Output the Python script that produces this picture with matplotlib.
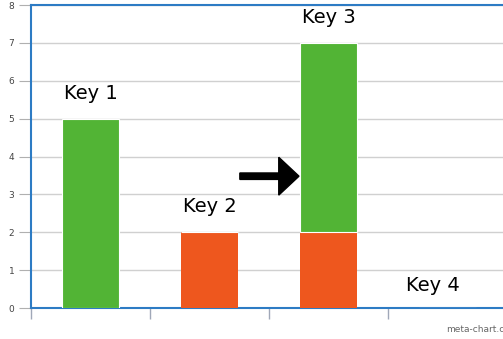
import matplotlib
matplotlib.use("Agg")
import matplotlib.pyplot as plt
from matplotlib.patches import FancyArrow
import numpy as np

categories = ["Key 1", "Key 2", "Key 3", "Key 4"]
green_vals = [5, 0, 5, 0]
orange_vals = [0, 2, 2, 0]
label_y = [5.42, 2.42, 7.42, 0.35]
label_x = [0, 1, 2, 2.88]

W, H = 503, 339
fig = plt.figure(figsize=(W/100, H/100), dpi=100)
left, right, top, bottom = 31, 507, 5, 308
ax = fig.add_axes([left/W, 1-bottom/H, (right-left)/W, (bottom-top)/H])

x = np.arange(len(categories))
green = "#52b435"
orange = "#ee571e"
ax.bar(x, orange_vals, width=0.48, color=orange, zorder=3, linewidth=0)
ax.bar(x, green_vals, width=0.48, bottom=orange_vals, color=green, zorder=3,
       edgecolor="white", linewidth=0.8)

for lx, name, ly in zip(label_x, categories, label_y):
    ax.text(lx, ly, name, ha="center", va="bottom", fontsize=14, color="black", zorder=4)

ax.add_patch(FancyArrow(1.255, 3.48, 0.497, 0, width=0.17, head_width=1.0,
                        head_length=0.17, length_includes_head=True,
                        color="black", zorder=5))

ax.set_xlim(-0.5, 3.5)
ax.set_ylim(0, 8)
ax.set_yticks(range(0, 9))
ax.set_xticks([-0.5, 0.5, 1.5, 2.5])
ax.set_xticklabels([])
ax.yaxis.grid(True, color="#d0d0d0", linewidth=1, zorder=0)
ax.tick_params(axis="y", length=9, color="#b0b0b0", labelsize=6.5, labelcolor="#444444", pad=3)
ax.tick_params(axis="x", length=8, color="#a0a8b8", width=1)
for s in ["left", "top", "bottom"]:
    ax.spines[s].set_color("#2d7bc4")
    ax.spines[s].set_linewidth(1.5)
ax.spines["right"].set_visible(False)

fig.text(446/W, 0.015, "meta-chart.com", ha="left", va="bottom", fontsize=6.5, color="#666666")

fig.savefig("out.png", dpi=100)
